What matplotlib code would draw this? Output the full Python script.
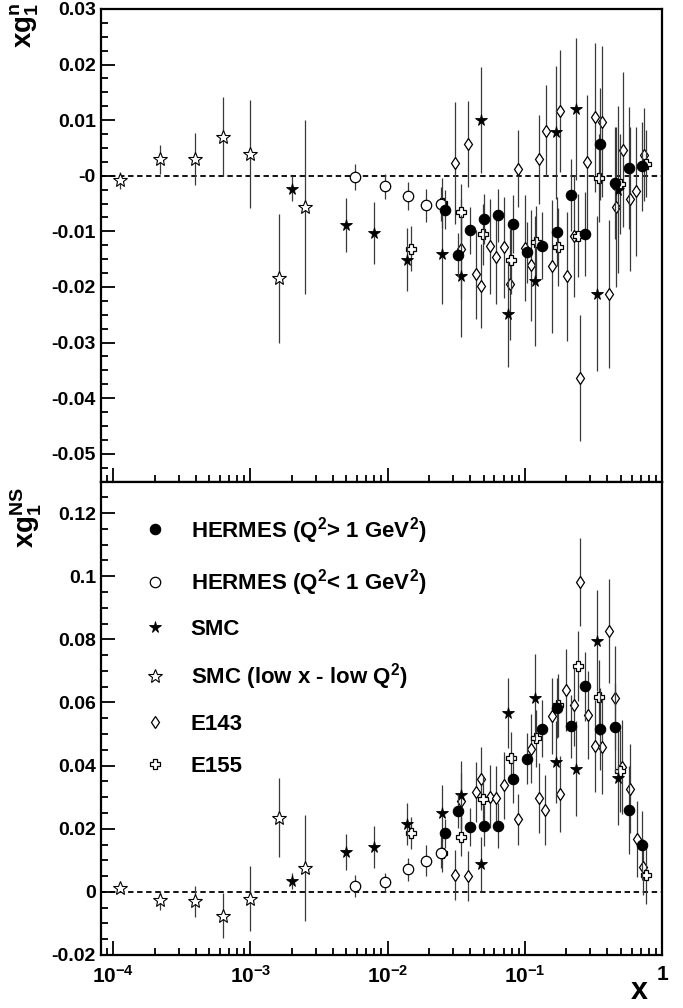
import matplotlib
matplotlib.use("Agg")
import matplotlib.pyplot as plt
from matplotlib.lines import Line2D
from matplotlib.ticker import LogLocator, MultipleLocator, FuncFormatter, NullFormatter

plt.rcParams['font.family'] = ['Liberation Sans', 'DejaVu Sans']
plt.rcParams['font.weight'] = 'bold'
plt.rcParams['mathtext.fontset'] = 'custom'
plt.rcParams['mathtext.rm'] = 'Liberation Sans:bold'
plt.rcParams['mathtext.bf'] = 'Liberation Sans:bold'
plt.rcParams['mathtext.it'] = 'Liberation Sans:bold'
plt.rcParams['mathtext.default'] = 'bf'

# ---------------- data ----------------
# HERMES, Q^2 > 1 GeV^2
hermes_x = [0.0261, 0.0326, 0.0397, 0.0502, 0.0638, 0.0820, 0.1038, 0.1334,
            0.1716, 0.2185, 0.2763, 0.3512, 0.4518, 0.5711, 0.714]
hermes_n = [-0.0061, -0.0143, -0.0098, -0.0078, -0.0071, -0.0087, -0.0138, -0.0126,
            -0.0101, -0.0035, -0.0105, 0.0057, -0.0013, 0.0014, 0.0017]
hermes_n_err = [0.0035, 0.0040, 0.0042, 0.0045, 0.0048, 0.0052, 0.0055, 0.0060,
                0.0062, 0.0065, 0.0075, 0.0100, 0.0100, 0.0110, 0.0080]
hermes_ns = [0.0185, 0.0256, 0.0206, 0.0210, 0.0210, 0.0357, 0.0422, 0.0517,
             0.0584, 0.0524, 0.0651, 0.0515, 0.0521, 0.0259, 0.0147]
hermes_ns_err = [0.0045, 0.0055, 0.0060, 0.0065, 0.0070, 0.0075, 0.0080, 0.0090,
                 0.0095, 0.0100, 0.0110, 0.0130, 0.0140, 0.0140, 0.0110]

# HERMES, Q^2 < 1 GeV^2
hermes_lo_x = [0.0058, 0.00954, 0.0141, 0.0189, 0.0244]
hermes_lo_n = [-0.0002, -0.0019, -0.0037, -0.0053, -0.0051]
hermes_lo_n_err = [0.0024, 0.0022, 0.0025, 0.0030, 0.0030]
hermes_lo_ns = [0.0018, 0.0030, 0.0071, 0.0099, 0.0124]
hermes_lo_ns_err = [0.0035, 0.0030, 0.0037, 0.0048, 0.0050]

# SMC
smc_x = [0.0020, 0.00496, 0.00793, 0.01387, 0.0247, 0.0345, 0.0483, 0.0754,
         0.1195, 0.170, 0.2376, 0.3356, 0.4774]
smc_n = [-0.0023, -0.0089, -0.0103, -0.0151, -0.0141, -0.0180, 0.0100, -0.0249,
         -0.0190, 0.0078, 0.0120, -0.0212, -0.0025]
smc_n_err = [0.0022, 0.0049, 0.0056, 0.0057, 0.0090, 0.0110, 0.0095, 0.0095,
             0.0117, 0.0120, 0.0128, 0.0140, 0.0150]
smc_ns = [0.0034, 0.0126, 0.0142, 0.0214, 0.0249, 0.0306, 0.0087, 0.0566,
          0.0615, 0.0410, 0.0390, 0.0796, 0.0362]
smc_ns_err = [0.0026, 0.0058, 0.0068, 0.0066, 0.0090, 0.0110, 0.0088, 0.0110,
              0.0138, 0.0130, 0.0150, 0.0160, 0.0150]

# SMC, low x - low Q^2
smclo_x = [1.12e-4, 2.2e-4, 3.94e-4, 6.34e-4, 1.0e-3, 1.61e-3, 2.51e-3]
smclo_n = [-0.0008, 0.0030, 0.0030, 0.0070, 0.0039, -0.0184, -0.0056]
smclo_n_err = [0.0015, 0.0026, 0.0047, 0.0071, 0.0097, 0.0116, 0.0156]
smclo_ns = [0.0013, -0.0027, -0.0030, -0.0075, -0.0022, 0.0235, 0.0076]
smclo_ns_err = [0.0012, 0.0030, 0.0050, 0.0072, 0.0103, 0.0125, 0.0167]

# E143
e143_x_n = [0.0309, 0.0345, 0.0386, 0.0437, 0.0483, 0.0555, 0.0621, 0.0702,
            0.0785, 0.0884, 0.0998, 0.1117, 0.1263, 0.1420, 0.1589, 0.1796,
            0.2030, 0.2271, 0.2541, 0.2858, 0.3229, 0.3650, 0.4086, 0.4594,
            0.5191, 0.5808, 0.6499, 0.7345]
e143_n = [0.0023, -0.0132, 0.0057, -0.0177, -0.0198, -0.0127, -0.0146, -0.0129,
          -0.0195, 0.0013, -0.0130, -0.0161, 0.0030, 0.0081, -0.0163, 0.0117,
          -0.0181, -0.0108, -0.0364, 0.0025, 0.0105, 0.0097, -0.0213, -0.0056,
          0.0047, -0.0042, -0.0028, 0.0038]
e143_n_err = [0.0110, 0.0090, 0.0077, 0.0080, 0.0075, 0.0085, 0.0085, 0.0090,
              0.0100, 0.0070, 0.0095, 0.0100, 0.0080, 0.0082, 0.0120, 0.0110,
              0.0116, 0.0110, 0.0113, 0.0120, 0.0134, 0.0136, 0.0133, 0.0144,
              0.0140, 0.0130, 0.0116, 0.0084]
e143_x_ns = [0.0309, 0.0345, 0.0386, 0.0437, 0.0483, 0.0555, 0.0621, 0.0702,
             0.0892, 0.1117, 0.1263, 0.1413, 0.1589, 0.1796, 0.2010, 0.2271,
             0.2541, 0.2886, 0.3229, 0.3650, 0.4106, 0.4571, 0.5140, 0.5808,
             0.6530, 0.7260]
e143_ns = [0.0053, 0.0288, 0.0050, 0.0317, 0.0359, 0.0302, 0.0298, 0.0337,
           0.0230, 0.0454, 0.0298, 0.0259, 0.0557, 0.0309, 0.0640, 0.0591,
           0.0981, 0.0560, 0.0462, 0.0460, 0.0827, 0.0613, 0.0396, 0.0327,
           0.0167, 0.0079]
e143_ns_err = [0.0080, 0.0090, 0.0080, 0.0095, 0.0100, 0.0100, 0.0100, 0.0105,
               0.0080, 0.0110, 0.0110, 0.0110, 0.0120, 0.0120, 0.0130, 0.0130,
               0.0140, 0.0140, 0.0145, 0.0150, 0.0165, 0.0165, 0.0150, 0.0140,
               0.0120, 0.0090]

# E155
e155_x = [0.0149, 0.0247, 0.0345, 0.0496, 0.0789, 0.1197, 0.1745, 0.2440,
          0.3453, 0.4970, 0.7685]
e155_n = [-0.0131, -0.0049, -0.0065, -0.0105, -0.0152, -0.0119, -0.0128, -0.0108,
          -0.0004, -0.0014, 0.0022]
e155_n_err = [0.0040, 0.0045, 0.0050, 0.0055, 0.0060, 0.0065, 0.0070, 0.0075,
              0.0080, 0.0090, 0.0060]
e155_ns = [0.0187, 0.0124, 0.0175, 0.0293, 0.0425, 0.0486, 0.0591, 0.0716,
           0.0616, 0.0383, 0.0052]
e155_ns_err = [0.0050, 0.0060, 0.0060, 0.0070, 0.0080, 0.0090, 0.0100, 0.0110,
               0.0120, 0.0130, 0.0090]

legend_labels = ['HERMES (Q$^2$> 1 GeV$^2$)', 'HERMES (Q$^2$< 1 GeV$^2$)', 'SMC',
                 'SMC (low x - low Q$^2$)', 'E143', 'E155']
xtick_vals = [1e-4, 1e-3, 1e-2, 1e-1, 1]
xtick_labels = ['$10^{-4}$', '$10^{-3}$', '$10^{-2}$', '$10^{-1}$', '1']

# marker styles (order matches the legend)
styles = [
    dict(marker='o', ms=7.5, mfc='black', mec='black', mew=0.8),
    dict(marker='o', ms=7.5, mfc='white', mec='black', mew=0.9),
    dict(marker='*', ms=8.5, mfc='black', mec='black', mew=0.6),
    dict(marker='*', ms=10, mfc='white', mec='black', mew=0.8),
    dict(marker='d', ms=6, mfc='white', mec='black', mew=0.9),
    dict(marker='P', ms=7.5, mfc='white', mec='black', mew=0.9),
]

fig = plt.figure(figsize=(6.83, 10.08), dpi=100)
ax1 = fig.add_axes([0.1486, 0.5223, 0.8207, 0.4688])
ax2 = fig.add_axes([0.1486, 0.0526, 0.8207, 0.4697])

top_sets = [(e143_x_n, e143_n, e143_n_err, 4),
            (e155_x, e155_n, e155_n_err, 5),
            (smclo_x, smclo_n, smclo_n_err, 3),
            (smc_x, smc_n, smc_n_err, 2),
            (hermes_lo_x, hermes_lo_n, hermes_lo_n_err, 1),
            (hermes_x, hermes_n, hermes_n_err, 0)]
bot_sets = [(e143_x_ns, e143_ns, e143_ns_err, 4),
            (e155_x, e155_ns, e155_ns_err, 5),
            (smclo_x, smclo_ns, smclo_ns_err, 3),
            (smc_x, smc_ns, smc_ns_err, 2),
            (hermes_lo_x, hermes_lo_ns, hermes_lo_ns_err, 1),
            (hermes_x, hermes_ns, hermes_ns_err, 0)]

for ax, sets in [(ax1, top_sets), (ax2, bot_sets)]:
    ax.axhline(0, color='black', ls=(0, (3, 2)), lw=1.3, zorder=1)
    for i, (xs, ys, es, k) in enumerate(sets):
        ax.errorbar(xs, ys, yerr=es, fmt='none', ecolor='#3a3a3a', elinewidth=0.9,
                    capsize=0, zorder=2 + i)
        ax.plot(xs, ys, ls='none', zorder=2.5 + i, **styles[k])

    ax.set_xscale('log')
    ax.set_xlim(8.2e-5, 1.0)
    ax.xaxis.set_major_locator(LogLocator(base=10, numticks=10))
    ax.xaxis.set_minor_locator(LogLocator(base=10, subs=range(2, 10), numticks=10))
    ax.xaxis.set_minor_formatter(NullFormatter())
    ax.tick_params(which='both', direction='in', top=False, right=False, width=1.3)
    ax.tick_params(which='major', length=10)
    ax.tick_params(which='minor', length=5)
    ax.yaxis.set_major_formatter(FuncFormatter(lambda v, _: '%g' % round(v, 4)))
    ax.tick_params(axis='y', labelsize=14, pad=4)
    for sp in ax.spines.values():
        sp.set_linewidth(1.6)

ax1.set_ylim(-0.055, 0.03)
ax1.yaxis.set_major_locator(MultipleLocator(0.01))
ax1.yaxis.set_minor_locator(MultipleLocator(0.0025))
ax1.set_xticklabels([])
ax1.xaxis.set_major_formatter(NullFormatter())

ax2.set_ylim(-0.02, 0.13)
ax2.yaxis.set_major_locator(MultipleLocator(0.02))
ax2.yaxis.set_minor_locator(MultipleLocator(0.005))
ax2.set_xticks(xtick_vals, labels=xtick_labels)
ax2.tick_params(axis='x', labelsize=15, pad=7)

handles = [Line2D([], [], ls='none', **s) for s in styles]
ax2.legend(handles, legend_labels, loc='upper left', bbox_to_anchor=(0.0757, 0.93),
           frameon=False, fontsize=16, borderpad=0, borderaxespad=0,
           handlelength=1.0, handletextpad=1.1, labelspacing=0.96)

fig.text(25 / 683, 1 - 25 / 1008, r'$xg_1^n$', rotation=90, ha='center', va='center',
         fontsize=20)
fig.text(26 / 683, 1 - 517 / 1008, r'$xg_1^{NS}$', rotation=90, ha='center', va='center',
         fontsize=20)
fig.text(648 / 683, 2 / 1008, 'x', ha='right', va='bottom', fontsize=22)

fig.savefig('out.png', dpi=100)
